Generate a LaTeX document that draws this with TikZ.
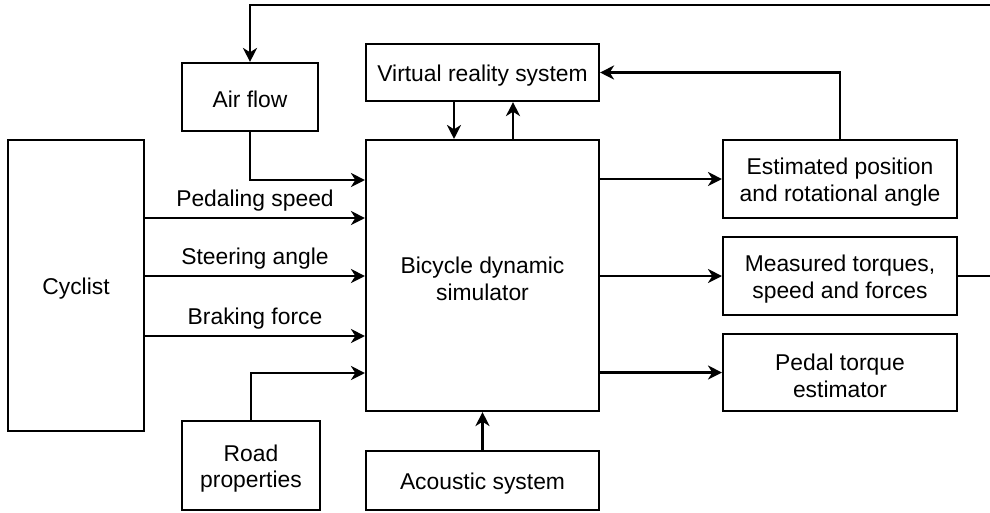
\documentclass[tikz,border=0pt]{standalone}
\usepackage{fontspec}
\setmainfont{Liberation Sans}
\usetikzlibrary{arrows.meta}

\begin{document}
\begin{tikzpicture}[x=0.02cm, y=-0.02cm, >={Stealth[length=8pt,width=8pt,inset=2.5pt]},
  every node/.style={font=\fontsize{13}{15.3}\selectfont},
  block/.style={draw, line width=1.2pt, align=center, inner sep=0pt, text height=12.6pt},
  block2/.style={block, text height=28.2pt},
  flow/.style={->, line width=1.2pt},
  lbl/.style={above}]

% Fix the frame
\useasboundingbox (0,0) rectangle (990,512);

% Left side: rider and inputs
\node[block, minimum width=2.72cm, minimum height=5.82cm] (cyc) at (76,285.5) {Cyclist};
\node[block, minimum width=2.72cm, minimum height=1.36cm] (air) at (250,97) {Air flow};
\node[block2, minimum width=2.76cm, minimum height=1.78cm] (road) at (251,465.5) {Road\\properties};

% Middle column
\node[block, minimum width=4.66cm, minimum height=1.14cm] (vr) at (482.5,72.5) {Virtual reality system};
\node[block2, minimum width=4.66cm, minimum height=5.42cm] (sim) at (482.5,275.5) {Bicycle dynamic\\simulator};
\node[block, minimum width=4.66cm, minimum height=1.18cm] (acou) at (482.5,480.5) {Acoustic system};

% Right side: outputs
\node[block2, minimum width=4.68cm, minimum height=1.56cm] (est) at (840,179) {Estimated position\\and rotational angle};
\node[block2, minimum width=4.68cm, minimum height=1.56cm] (meas) at (840,276) {Measured torques,\\speed and forces};
\node[block2, minimum width=4.68cm, minimum height=1.54cm] (pedal) at (840,372.5) {Pedal torque\\estimator};

% Free ends at the right edge
\coordinate (topR) at (990,5);
\coordinate (measR) at (990,276);

% Cyclist inputs
\draw[flow] (cyc.east |- 0,218) -- (sim.west |- 0,218) node[midway, lbl] {Pedaling speed};
\draw[flow] (cyc.east |- 0,276) -- (sim.west |- 0,276) node[midway, lbl] {Steering angle};
\draw[flow] (cyc.east |- 0,336) -- (sim.west |- 0,336) node[midway, lbl] {Braking force};

% Environment
\draw[flow] (air.south) |- (sim.west |- 0,180);
\draw[flow] (road.north) |- (sim.west |- 0,373);
\draw[flow] (topR) -| (air.north);
\draw[flow] (vr.south -| 454,0) -- (sim.north -| 454,0);
\draw[flow] (sim.north -| 513,0) -- (vr.south -| 513,0);
\draw[flow] (acou.north) -- (sim.south);

% Outputs
\draw[flow] (sim.east |- est.west) -- (est.west);
\draw[flow] (sim.east |- meas.west) -- (meas.west);
\draw[flow] (sim.east |- pedal.west) -- (pedal.west);
\draw[flow] (est.north) |- (vr.east);
\draw[line width=1.2pt] (meas.east) -- (measR);

\end{tikzpicture}
\end{document}
